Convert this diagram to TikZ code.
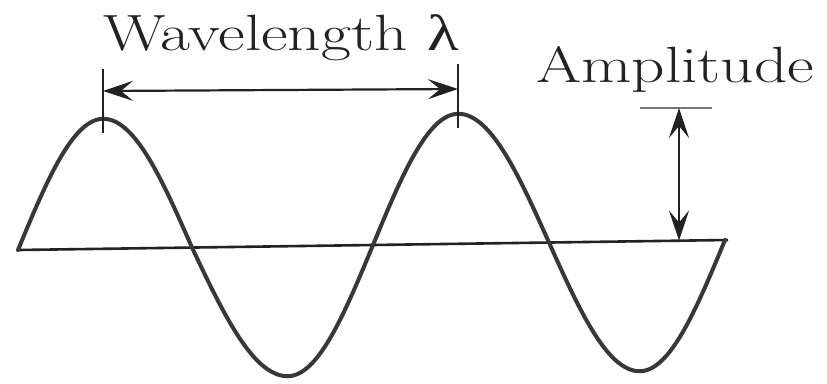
\documentclass[tikz,border=0pt]{standalone}
\usepackage{fontspec}
\newfontfamily\greekf{Liberation Serif}
\usetikzlibrary{arrows.meta}
\definecolor{ink}{HTML}{222222}
\definecolor{waveink}{HTML}{383838}
\definecolor{thin}{HTML}{777777}
\begin{document}
\begin{tikzpicture}[x=1pt,y=-1pt,
  wave/.style={draw=waveink,line width=4pt,line cap=round,line join=round},
  axisline/.style={draw=ink,line width=2.6pt,line cap=butt},
  tickline/.style={draw=ink,line width=1.6pt},
  dimarrow/.style={draw=ink,line width=2.2pt,{Stealth[length=30pt,width=20pt,inset=12pt]}-{Stealth[length=30pt,width=20pt,inset=12pt]}},
  label/.style={inner sep=0pt,anchor=base,text=ink,font=\fontsize{51}{60}\selectfont}]
\useasboundingbox (0,0) rectangle (827,383);
\fill[white] (0,0) rectangle (827,383);
% axis
\coordinate (axL) at (18,250);
\coordinate (axR) at (728,240);
\draw[axisline] (axL) -- (axR);
% wave
\foreach \xa/\xb/\ta in {18/103/0,103/192/90,192/288/180,288/373/270,373/458/360,458/549/450,549/640/540,640/725/630}{
  \draw[wave] plot[domain=0:90,samples=30,variable=\t,smooth]
    ({\xa+(\xb-\xa)*\t/90},{250-10*(\xa+(\xb-\xa)*\t/90-18)/710-130*sin(\ta+\t)});
}
% wavelength ticks and arrow
\coordinate (t1a) at (103,69);
\coordinate (t1b) at (103,133);
\coordinate (t2a) at (458,64);
\coordinate (t2b) at (458,128);
\draw[tickline] (t1a) -- (t1b);
\draw[tickline] (t2a) -- (t2b);
\coordinate (w1) at (103,91);
\coordinate (w2) at (458,89);
\draw[dimarrow] (w1) -- (w2);
\node[label] (wl) at (281,50) {\scalebox{1.28}[1]{\addfontfeature{LetterSpace=3.5}Wavelength {\greekf λ}}};
% amplitude
\coordinate (h1) at (640,108);
\coordinate (h2) at (712,108);
\draw[draw=thin,line width=1.3pt] (h1) -- (h2);
\coordinate (a1) at (679,108);
\coordinate (a2) at (679,240.5);
\draw[dimarrow] (a1) -- (a2);
\node[label] (amp) at (675,82) {\scalebox{1.28}[1]{\addfontfeature{LetterSpace=5}Amplitude}};
\end{tikzpicture}
\end{document}
